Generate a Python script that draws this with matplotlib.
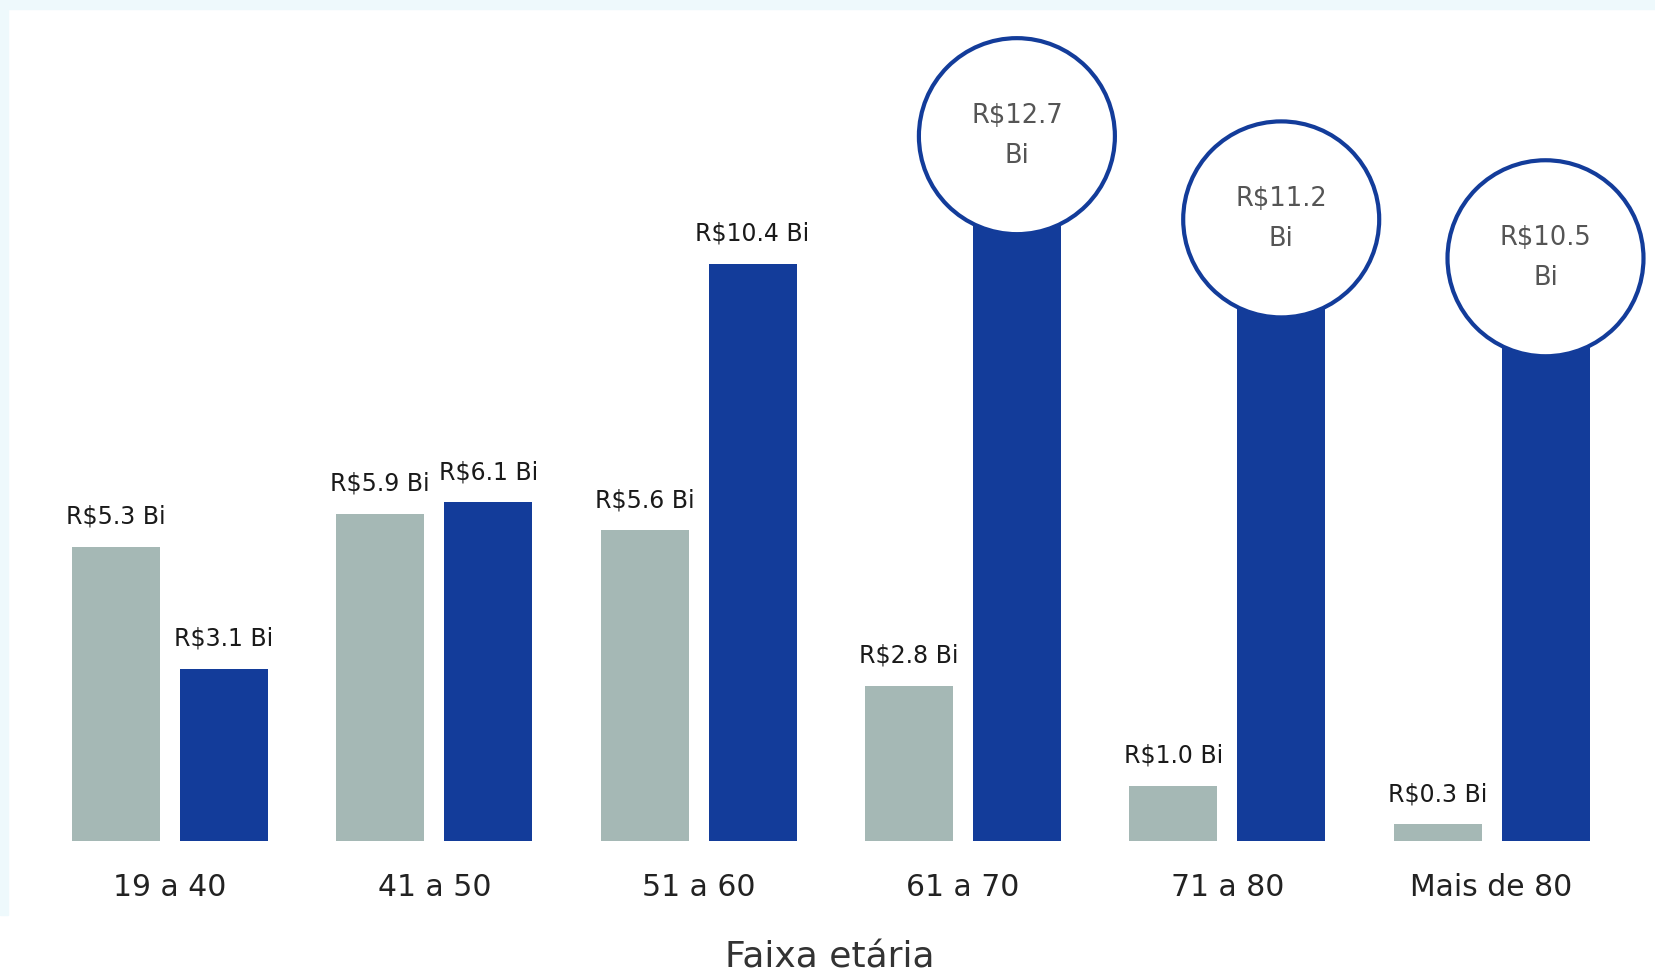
import matplotlib.pyplot as plt
from matplotlib.patches import Ellipse, Rectangle

# data
faixas = ["19 a 40", "41 a 50", "51 a 60", "61 a 70", "71 a 80", "Mais de 80"]
serie_cinza = [5.3, 5.9, 5.6, 2.8, 1.0, 0.3]
serie_azul = [3.1, 6.1, 10.4, 12.7, 11.2, 10.5]
destaque = [False, False, False, True, True, True]

CINZA = "#a5b8b5"
AZUL = "#133c9a"

plt.rcParams["font.family"] = ["DejaVu Sans"]

W, H = 1655, 975
fig = plt.figure(figsize=(W / 100, H / 100), dpi=100)
fig.patch.set_facecolor("white")
# light frame at top and left
fig.patches.append(Rectangle((0, 1 - 9 / H), 1, 9 / H, transform=fig.transFigure,
                             color="#eef9fc", zorder=0))
fig.patches.append(Rectangle((0, 1 - 915 / H), 8 / W, 915 / H, transform=fig.transFigure,
                             color="#eef9fc", zorder=0))

base = 841
x0 = 170
px_x = 264.3   # pixels per group
px_y = 55.5    # pixels per unit
ax = fig.add_axes([0, (H - base) / H, 1, base / H])
ax.set_xlim(-x0 / px_x, (W - x0) / px_x)
ax.set_ylim(0, base / px_y)
ax.axis("off")

x = list(range(len(faixas)))
w = 88 / px_x
off = 54 / px_x
ax.bar([i - off for i in x], serie_cinza, width=w, color=CINZA, zorder=2)
ax.bar([i + off for i in x], serie_azul, width=w, color=AZUL, zorder=2)

lab_off = 18 / px_y
for i, v in enumerate(serie_cinza):
    ax.text(i - off, v + lab_off, f"R${v:.1f} Bi", ha="center", va="bottom",
            fontsize=17, color="#1a1a1a")

r = 98
for i, v in enumerate(serie_azul):
    if destaque[i]:
        ax.add_patch(Ellipse((i + off, v), 2 * r / px_x, 2 * r / px_y, facecolor="white",
                             edgecolor=AZUL, linewidth=3, zorder=4, clip_on=False))
        ax.text(i + off, v, f"R${v:.1f}\nBi", ha="center", va="center", fontsize=18.5,
                color="#555555", linespacing=1.7, zorder=5)
    else:
        ax.text(i + off, v + lab_off, f"R${v:.1f} Bi", ha="center", va="bottom",
                fontsize=17, color="#1a1a1a")

for i, f in enumerate(faixas):
    ax.text(i, -46 / px_y, f, ha="center", va="center", fontsize=21.5, color="#222222",
            clip_on=False)

fig.text(830 / W, 1 - 958 / H, "Faixa etária", ha="center", va="center",
         fontsize=26, color="#333333")

fig.savefig("out.png", dpi=100)
